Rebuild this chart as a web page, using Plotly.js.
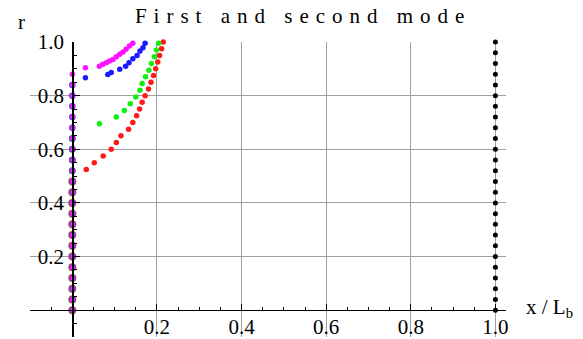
<!DOCTYPE html>
<html>
<head>
<meta charset="utf-8">
<script src="https://cdn.plot.ly/plotly-3.0.1.min.js"></script>
<style>
  html, body { margin: 0; padding: 0; background: #fff; }
  #chart { width: 583px; height: 339px; }
  .gtitle { letter-spacing: 7px; }
</style>
</head>
<body>
<div id="chart"></div>
<script>
// ---- data ----
const titleText = 'First and second mode';
const xTickVals = [0.2, 0.4, 0.6, 0.8, 1.0];
const xTickText = ['0.2', '0.4', '0.6', '0.8', '1.0'];
const yTickVals = [0.2, 0.4, 0.6, 0.8, 1.0];
const yTickText = ['0.2', '0.4', '0.6', '0.8', '1.0'];

// points lying on the axis x = 0
const redAxisR     = [0,0.04,0.08,0.12,0.16,0.2,0.24,0.28,0.32,0.36,0.4,0.44,0.48];
const greenAxisR   = [0,0.04,0.08,0.12,0.16,0.2,0.24,0.28,0.32,0.36,0.4,0.44,0.48,0.52,0.56,0.6,0.64];
const blueAxisR    = [0,0.04,0.08,0.12,0.16,0.2,0.24,0.28,0.32,0.36,0.4,0.44,0.48,0.52,0.56,0.6,0.64,0.68,0.72,0.76,0.8,0.84];
const magentaAxisR = [0,0.04,0.08,0.12,0.16,0.2,0.24,0.28,0.32,0.36,0.4,0.44,0.48,0.52,0.56,0.6,0.64,0.68,0.72,0.76,0.8,0.84,0.88];

// curved branches
const redX = [0.033,0.052,0.073,0.092,0.104,0.115,0.133,0.143,0.152,0.159,0.165,0.172,0.180,0.186,0.192,0.197,0.202,0.206,0.211,0.215];
const redR = [0.525,0.55,0.575,0.60,0.625,0.65,0.675,0.70,0.725,0.75,0.775,0.80,0.825,0.85,0.875,0.90,0.925,0.95,0.975,1.0];
const greenX = [0.064,0.104,0.123,0.137,0.150,0.160,0.165,0.173,0.181,0.187,0.194,0.199,0.204];
const greenR = [0.695,0.72,0.745,0.77,0.795,0.82,0.845,0.87,0.895,0.92,0.945,0.97,0.995];
const blueX = [0.031,0.084,0.092,0.112,0.126,0.134,0.143,0.153,0.160,0.167,0.172];
const blueR = [0.867,0.879,0.886,0.898,0.910,0.923,0.938,0.950,0.966,0.979,0.995];
const magentaX = [0.031,0.064,0.072,0.080,0.088,0.096,0.104,0.112,0.120,0.127,0.135,0.143];
const magentaR = [0.904,0.910,0.917,0.923,0.929,0.935,0.945,0.954,0.963,0.973,0.985,0.995];

// points on the line x = 1
const blackR = [0,0.04,0.08,0.12,0.16,0.2,0.24,0.28,0.32,0.36,0.4,0.44,0.48,0.52,0.56,0.6,0.64,0.68,0.72,0.76,0.8,0.84,0.88,0.92,0.96,1.0];

// ---- traces ----
function pts(xs, ys, color, size) {
  return { type: 'scatter', mode: 'markers', x: xs, y: ys, hoverinfo: 'skip',
           marker: { color: color, size: size, line: { width: 0 } }, showlegend: false, cliponaxis: false };
}
const zeros = a => a.map(() => 0);
const ones = a => a.map(() => 1);

const traces = [
  pts(zeros(redAxisR), redAxisR, '#ff2a1a', 8),
  pts(zeros(greenAxisR), greenAxisR, '#22ee22', 7),
  pts(zeros(blueAxisR), blueAxisR, '#2a2aff', 6.5),
  pts(zeros(magentaAxisR), magentaAxisR, '#ee22ee', 5.5),
  pts(redX, redR, '#ff1a1a', 5.5),
  pts(greenX, greenR, '#11ee11', 5.5),
  pts(blueX, blueR, '#1a1aff', 5.5),
  pts(magentaX, magentaR, '#ff11ff', 5.5),
  pts(ones(blackR), blackR, '#000000', 5)
];

const serif = 'Liberation Serif, Times New Roman, serif';
const layout = {
  width: 583, height: 339,
  margin: { l: 30, r: 77, t: 42, b: 2, pad: 0 },
  paper_bgcolor: '#fff', plot_bgcolor: '#fff',
  title: { text: titleText, font: { family: serif, size: 21, color: '#000' },
           xref: 'container', x: 0.52, xanchor: 'center', yref: 'container', y: 0.955, yanchor: 'middle' },
  xaxis: {
    range: [-0.1, 1.025], anchor: 'free', position: 0.1 / 1.1,
    tickmode: 'array', tickvals: xTickVals, ticktext: xTickText,
    showgrid: true, gridcolor: '#a0a0a0', gridwidth: 1, zeroline: false,
    showline: true, linecolor: '#000', linewidth: 1.2,
    ticks: 'inside', ticklen: 6, tickcolor: '#000', tickwidth: 1,
    minor: { tickmode: 'linear', tick0: 0, dtick: 0.05, ticks: 'inside', ticklen: 3, tickcolor: '#000', showgrid: false },
    tickfont: { family: serif, size: 21, color: '#000' }, ticklabelstandoff: -3,
    fixedrange: true
  },
  yaxis: {
    range: [-0.1, 1.0], anchor: 'free', position: 0.1 / 1.125,
    tickmode: 'array', tickvals: yTickVals, ticktext: yTickText,
    showgrid: true, gridcolor: '#a0a0a0', gridwidth: 1, zeroline: false,
    showline: true, linecolor: '#000', linewidth: 1.2,
    ticks: 'inside', ticklen: 6, tickcolor: '#000', tickwidth: 1,
    minor: { tickmode: 'linear', tick0: 0, dtick: 0.05, ticks: 'inside', ticklen: 3, tickcolor: '#000', showgrid: false },
    tickfont: { family: serif, size: 21, color: '#000' }, ticklabelstandoff: 4,
    fixedrange: true
  },
  annotations: [
    { text: 'r', xref: 'paper', yref: 'paper', x: -0.017, y: 1.068, showarrow: false,
      xanchor: 'center', yanchor: 'middle', font: { family: serif, size: 21, color: '#000' } },
    { text: 'x / L<sub>b</sub>', xref: 'paper', yref: 'paper', x: 1.092, y: 0.1, showarrow: false,
      xanchor: 'center', yanchor: 'middle', font: { family: serif, size: 21, color: '#000' } }
  ]
};

Plotly.newPlot('chart', traces, layout, { staticPlot: true, displayModeBar: false });
</script>
</body>
</html>
